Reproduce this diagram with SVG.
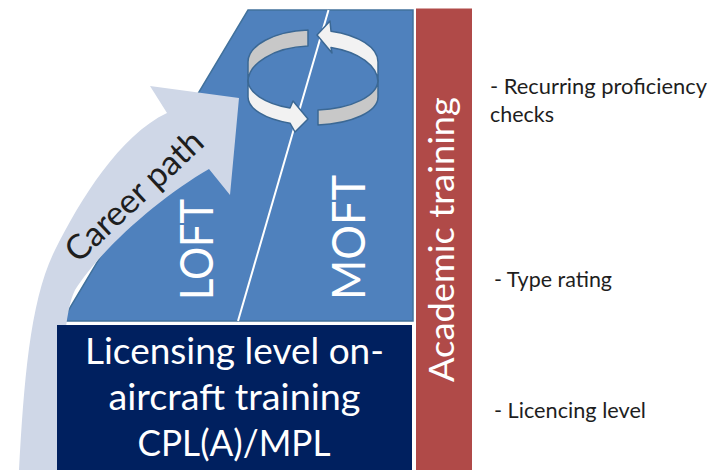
<svg xmlns="http://www.w3.org/2000/svg" width="709" height="470" viewBox="0 0 709 470">
<style>
text{font-family:Lato,"Open Sans","Liberation Sans",sans-serif}
.w{fill:#FFFFFF}
.k{fill:#1E1E1E}
.ring{stroke:#3B6894;stroke-width:1.5;stroke-linejoin:round}
.rg{fill:#C8C8C8}
.rw{fill:#F2F2F2}
</style>
<rect width="709" height="470" fill="#FFFFFF"/>
<g id="sim-training">
<polygon points="248,10 413,10 413,321 62,321" fill="#4F81BD" stroke="#41719C" stroke-width="1.5"/>
<line x1="328.5" y1="10" x2="238" y2="321" stroke="#FFFFFF" stroke-width="2"/>
<text class="w" font-size="46" transform="translate(213,300) rotate(-90)" textLength="101" lengthAdjust="spacingAndGlyphs">LOFT</text>
<text class="w" font-size="46" transform="translate(365,300) rotate(-90)" textLength="125" lengthAdjust="spacingAndGlyphs">MOFT</text>
</g>
<g id="connectors">
<g id="career-path">
<path d="M19,470 C24,380 30,300 55,250 C80,200 120,135 167,113 L150,86 L239,98 L230,195 L209,169 C160,197 100,250 75,290 C62,315 60,400 62,470 Z" fill="#CFD7E7"/>
<text class="k" font-size="34" transform="translate(78,264) rotate(-43)" textLength="175" lengthAdjust="spacingAndGlyphs">Career path</text>
</g>
<g id="cycle">
<path class="ring rg" d="M308,30.1 A65,32 0 0 0 248,62 L248,82 A65,36 0 0 1 308,46.1 Z"/>
<path class="ring rw" d="M248,80 A65,30 0 0 0 290,108 L293,101 L308,119 L295,132 L290,123.2 A65,28 0 0 1 248,97 Z"/>
<path class="ring rg" d="M318,109.9 A65,30 0 0 0 378,80 L378,97 A65,28 0 0 1 318,124.9 Z"/>
<path class="ring rw" d="M378,62 A65,32 0 0 0 331,31.2 L330,21 L317,35 L332,53 L331,47.4 A65,36 0 0 1 378,82 Z"/>
</g>
</g>
<g id="licensing-level">
<rect x="57" y="325" width="355" height="145" fill="#00205F"/>
<text class="w" font-size="36" text-anchor="middle" x="234.5" y="364" textLength="299" lengthAdjust="spacingAndGlyphs">Licensing level on-</text>
<text class="w" font-size="36" text-anchor="middle" x="234.5" y="410" textLength="252" lengthAdjust="spacingAndGlyphs">aircraft training</text>
<text class="w" font-size="36" text-anchor="middle" x="234" y="456" textLength="193" lengthAdjust="spacingAndGlyphs">CPL(A)/MPL</text>
</g>
<g id="academic-training">
<rect x="416" y="8.5" width="56" height="461.5" fill="#B04A48"/>
<text class="w" font-size="35" transform="translate(454,382) rotate(-90)" textLength="285" lengthAdjust="spacingAndGlyphs">Academic training</text>
</g>
<g id="levels">
<text class="k" font-size="21.5" x="490" y="94" textLength="217" lengthAdjust="spacingAndGlyphs">- Recurring proficiency</text>
<text class="k" font-size="21.5" x="490" y="122" textLength="64" lengthAdjust="spacingAndGlyphs">checks</text>
<text class="k" font-size="21.5" x="494" y="287" textLength="118" lengthAdjust="spacingAndGlyphs">- Type rating</text>
<text class="k" font-size="21.5" x="494" y="418" textLength="152" lengthAdjust="spacingAndGlyphs">- Licencing level</text>
</g>
</svg>
